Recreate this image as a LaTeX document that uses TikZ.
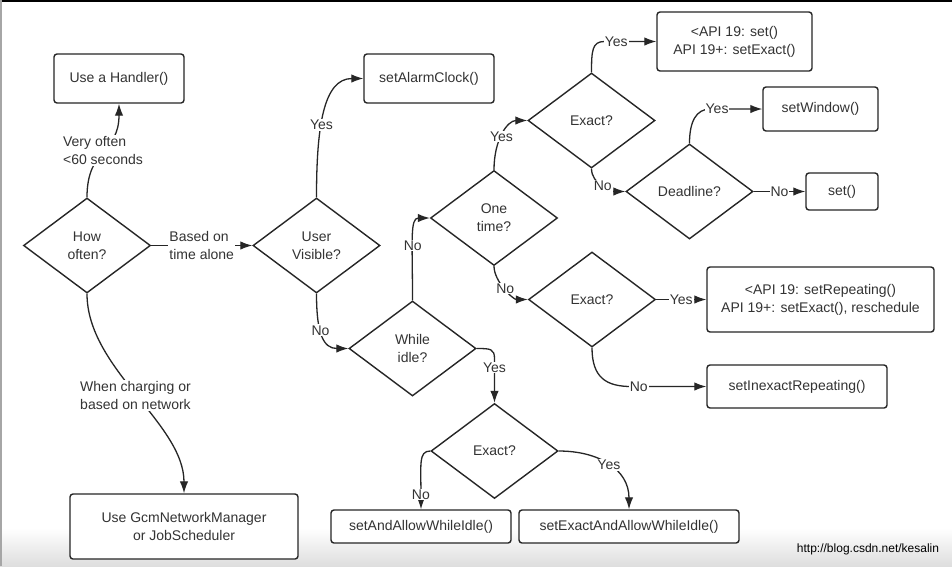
\documentclass[tikz,border=0pt]{standalone}
\usepackage{fontspec}
\setmainfont{Liberation Sans}
\usetikzlibrary{shapes.geometric,arrows.meta}
\definecolor{ink}{HTML}{262626}
\definecolor{txt}{HTML}{333333}
\begin{document}
\begin{tikzpicture}[x=1pt,y=-1pt,
  every node/.style={font=\fontsize{14}{18}\selectfont, text=txt},
  box/.style={draw=ink, line width=1.4pt, rounded corners=3pt, fill=white, align=center, inner sep=0pt},
  dia/.style={diamond, draw=ink, line width=1.4pt, minimum width=127pt, minimum height=95pt, inner sep=0pt, align=center, fill=white},
  lbl/.style={fill=white, inner sep=1pt, align=left},
  conn/.style={draw=ink, line width=1.3pt, -{Latex[length=12pt,width=8.5pt]}}]
\useasboundingbox (0,0) rectangle (952,566);
\fill[white] (0,0) rectangle (952,566);
\shade[top color=white, bottom color=black!13] (0,528) rectangle (952,566);
\fill[black] (0,0) rectangle (952,2);
\fill[black!35] (0,0) rectangle (1.5,566);

% boxes
\node[box, minimum width=130pt, minimum height=49pt] (h1) at (119,78.5) {Use a Handler()};
\node[box, minimum width=130pt, minimum height=49pt] (alarm) at (429,78.5) {setAlarmClock()};
\node[box, minimum width=155pt, minimum height=59pt] (api1) at (734.5,41.5) {<API 19: set()\\API 19+: setExact()};
\node[box, minimum width=115pt, minimum height=44pt] (win) at (820.5,109) {setWindow()};
\node[box, minimum width=72pt, minimum height=37pt] (set) at (842,191.5) {set()};
\node[box, minimum width=227pt, minimum height=65pt] (api2) at (820.5,299.5) {<API 19: setRepeating()\\API 19+: setExact(), reschedule};
\node[box, minimum width=180pt, minimum height=43pt] (inex) at (797,386.5) {setInexactRepeating()};
\node[box, minimum width=180pt, minimum height=33pt] (aawi) at (421,526.5) {setAndAllowWhileIdle()};
\node[box, minimum width=220pt, minimum height=33pt] (eaawi) at (629,526.5) {setExactAndAllowWhileIdle()};
\node[box, minimum width=228pt, minimum height=65pt] (gcm) at (184,526.5) {Use GcmNetworkManager\\or JobScheduler};

% diamonds
\node[dia] (how) at (87,245.5) {How\\often?};
\node[dia] (uv) at (316.5,245.5) {User\\Visible?};
\node[dia] (one) at (494,218) {One\\time?};
\node[dia] (ex1) at (591.5,120.5) {Exact?};
\node[dia] (dl) at (689.5,191.5) {Deadline?};
\node[dia] (ex2) at (592,299.5) {Exact?};
\node[dia] (wi) at (412.5,348.5) {While\\idle?};
\node[dia] (ex3) at (494.5,451) {Exact?};

% connectors
\draw[conn] (how.north) .. controls +(0,-50) and +(0,50) .. node[lbl]{Very often\\<60 seconds} (h1.south);
\draw[conn] (how.east) -- node[lbl]{Based on\\time alone} (uv.west);
\draw[conn] (how.south) .. controls +(0,75) and +(0,-70) .. node[lbl]{When charging or\\based on network} (gcm.north);
\draw[conn] (uv.north) .. controls +(0,-70) and +(-40,0) .. node[lbl,pos=0.4]{Yes} (alarm.west);
\draw[conn] (uv.south) .. controls +(0,40) and +(-25,0) .. node[lbl,pos=0.4]{No} (wi.west);
\draw[conn] (wi.north) .. controls +(0,-60) and +(-20,0) .. node[lbl,pos=0.4]{No} (one.west);
\draw[conn] (one.north) .. controls +(0,-30) and +(-20,0) .. node[lbl,pos=0.45]{Yes} (ex1.west);
\draw[conn] (ex1.north) .. controls +(0,-22) and +(-12,0) .. ([xshift=-52pt]api1.west) -- node[lbl,pos=0.23]{Yes} (api1.west);
\draw[conn] (ex1.south) .. controls +(0,15) and +(-15,0) .. node[lbl,pos=0.5]{No} (dl.west);
\draw[conn] (dl.north) .. controls +(0,-22) and +(-14,0) .. ([xshift=-52pt]win.west) -- node[lbl,pos=0.13]{Yes} (win.west);
\draw[conn] (dl.east) -- node[lbl]{No} (set.west);
\draw[conn] (one.south) .. controls +(0,15) and +(-15,0) .. node[lbl,pos=0.5]{No} (ex2.west);
\draw[conn] (ex2.east) -- node[lbl]{Yes} (api2.west);
\draw[conn] (ex2.south) .. controls +(0,30) and +(-25,0) .. ([xshift=-75pt]inex.west) -- node[lbl,pos=0.1]{No} (inex.west);
\draw[conn] (wi.east) .. controls +(14,0) and +(0,-10) .. ([yshift=44pt]ex3.north) -- node[lbl,pos=0.2]{Yes} (ex3.north);
\draw[conn] (ex3.west) .. controls +(-12,0) and +(0,-45) .. node[lbl,pos=0.88]{No} (aawi.north);
\draw[conn] (ex3.east) .. controls +(40,0) and +(0,-40) .. node[lbl,pos=0.5]{Yes} (eaawi.north);

\node[font=\fontsize{12}{14}\selectfont, text=black] (wm) at (868,549) {http://blog.csdn.net/kesalin};
\end{tikzpicture}
\end{document}
